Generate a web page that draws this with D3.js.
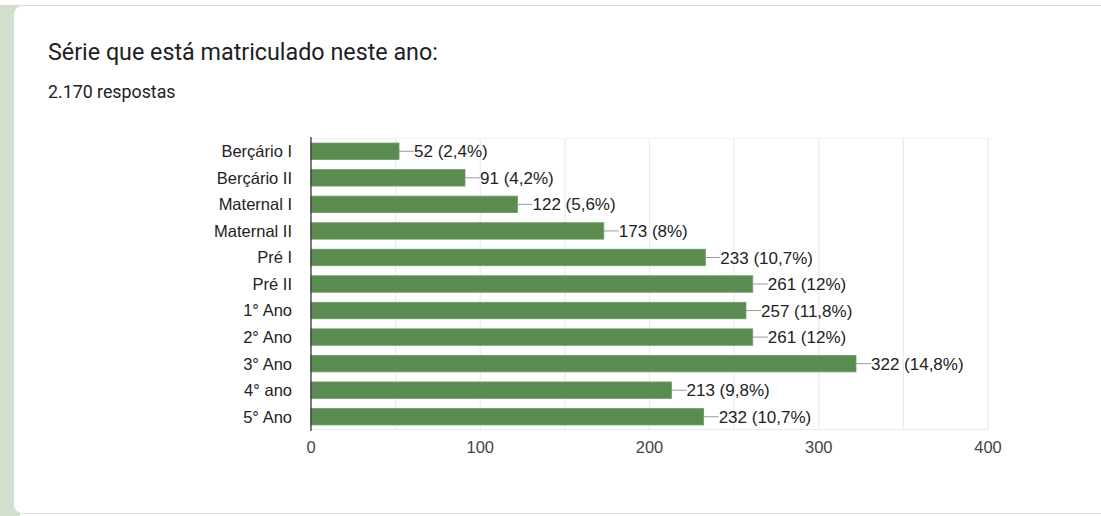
<!DOCTYPE html>
<html><head><meta charset="utf-8">
<script src="https://cdn.jsdelivr.net/npm/d3@7"></script>
<style>body{margin:0;background:#fff;}svg{display:block;font-family:"Liberation Sans",Arial,sans-serif;}</style>
</head><body>
<svg id="c" width="1101" height="516"></svg>
<script>
const categories = ["Berçário I","Berçário II","Maternal I","Maternal II","Pré I","Pré II","1° Ano","2° Ano","3° Ano","4° ano","5° Ano"];
const values = [52,91,122,173,233,261,257,261,322,213,232];
const percents = ["2,4%","4,2%","5,6%","8%","10,7%","12%","11,8%","12%","14,8%","9,8%","10,7%"];
const xTicks = [0,100,200,300,400];
const gridTicks = [50,100,150,200,250,300,350,400];
const title = "Série que está matriculado neste ano:";
const subtitle = "2.170 respostas";

const svg = d3.select("#c");
// background strip and card
svg.append("rect").attr("x",0).attr("y",5).attr("width",20).attr("height",511).attr("fill","#d2dfcd");
svg.append("rect").attr("x",13.5).attr("y",5.5).attr("width",1110).attr("height",508).attr("rx",9)
  .attr("fill","#fff").attr("stroke","#dadce0");

svg.append("text").attr("x",48).attr("y",60).attr("font-family","Roboto").attr("font-size",23.3)
  .attr("fill","#202124").text(title);
svg.append("text").attr("x",48).attr("y",98).attr("font-family","Roboto").attr("font-size",17.8)
  .attr("fill","#202124").text(subtitle);

const x = d3.scaleLinear().domain([0,400]).range([311,988]);
const y = d3.scaleBand().domain(categories).range([138,430]).paddingInner(0.38).paddingOuter(0.19);

const g = svg.append("g");
// grid
g.selectAll("line.grid").data(gridTicks).join("line")
  .attr("x1",d=>x(d)).attr("x2",d=>x(d)).attr("y1",138).attr("y2",430)
  .attr("stroke","#ebebeb").attr("stroke-width",1.2);
g.append("line").attr("x1",311).attr("x2",988).attr("y1",138.5).attr("y2",138.5).attr("stroke","#f2f2f2");
g.append("line").attr("x1",311).attr("x2",988).attr("y1",429.5).attr("y2",429.5).attr("stroke","#ebebeb");

// bars
g.selectAll("rect.bar").data(values).join("rect")
  .attr("x",x(0)).attr("y",(d,i)=>y(categories[i]))
  .attr("width",d=>x(d)-x(0)).attr("height",y.bandwidth())
  .attr("fill","#5a8c51").attr("stroke","#6e9c66").attr("stroke-width",0.8);

// leaders and labels
g.selectAll("line.lead").data(values).join("line")
  .attr("x1",d=>x(d)).attr("x2",d=>x(d)+15)
  .attr("y1",(d,i)=>y(categories[i])+y.bandwidth()/2).attr("y2",(d,i)=>y(categories[i])+y.bandwidth()/2)
  .attr("stroke","#999").attr("stroke-width",1);
g.selectAll("text.val").data(values).join("text")
  .attr("x",d=>x(d)+15).attr("y",(d,i)=>y(categories[i])+y.bandwidth()/2)
  .attr("dy","0.36em").attr("font-size",17).attr("fill","#222")
  .text((d,i)=>`${d} (${percents[i]})`);

// y axis
g.append("line").attr("x1",311).attr("x2",311).attr("y1",137).attr("y2",431).attr("stroke","#333").attr("stroke-width",1.3);
g.selectAll("text.cat").data(categories).join("text")
  .attr("x",292).attr("y",d=>y(d)+y.bandwidth()/2).attr("dy","0.36em")
  .attr("text-anchor","end").attr("font-size",16.5).attr("fill","#222").text(d=>d);

// x axis labels
g.selectAll("text.tick").data(xTicks).join("text")
  .attr("x",d=>x(d)).attr("y",453).attr("text-anchor","middle")
  .attr("font-size",16.5).attr("fill","#444").text(d=>d);
</script>
</body></html>
